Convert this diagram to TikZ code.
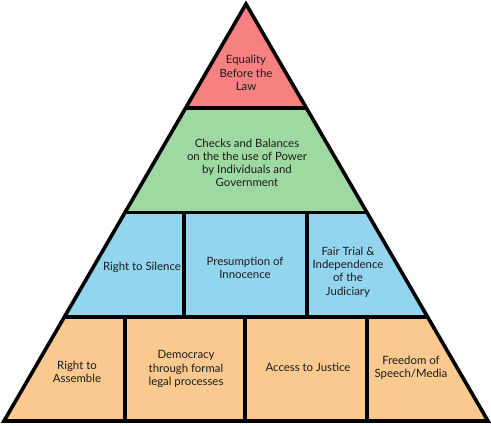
\documentclass[tikz,border=0pt]{standalone}
\usepackage{fontspec}
\setmainfont{Lato}
\usetikzlibrary{calc}
\definecolor{ink}{HTML}{1C1C1C}
\definecolor{lawred}{HTML}{F78080}
\definecolor{checkgreen}{HTML}{9ED9A1}
\definecolor{rightblue}{HTML}{93D4EF}
\definecolor{baseorange}{HTML}{F9C98F}
\tikzset{
  edge/.style={line width=3.6pt, draw=black},
  lbl/.style={font=\fontsize{11.4}{13.2}\selectfont, text=ink, align=center, inner sep=0pt},
}

\begin{document}
\begin{tikzpicture}[x=1pt,y=1pt]
  \useasboundingbox (0,0) rectangle (491,426);
  \coordinate (apex) at (246,422);
  \coordinate (bl) at (4,5);
  \coordinate (br) at (488,5);
  \foreach \k/\t in {1/0.25,2/0.5,3/0.75} {
    \coordinate (l\k) at ($(apex)!\t!(bl)$);
    \coordinate (r\k) at ($(apex)!\t!(br)$);
  }
  % tiers
  \fill[lawred] (apex) -- (l1) -- (r1) -- cycle;
  \fill[checkgreen] (l1) -- (l2) -- (r2) -- (r1) -- cycle;
  \fill[rightblue] (l2) -- (l3) -- (r3) -- (r2) -- cycle;
  \fill[baseorange] (l3) -- (bl) -- (br) -- (r3) -- cycle;
  % outlines
  \draw[edge] (l1) -- (r1) (l2) -- (r2) (l3) -- (r3);
  \foreach \x in {184,307} \draw[edge] (\x,213.5) -- (\x,109.25);
  \foreach \x in {125,245,367} \draw[edge] (\x,109.25) -- (\x,5);
  \draw[edge] (apex) -- (bl) -- (br) -- cycle;
  % labels
  \node[lbl] (equal) at (246,353) {Equality\\Before the\\Law};
  \node[lbl] (checks) at (247,263) {Checks and Balances\\on the the use of Power\\by Individuals and\\Government};
  \node[lbl] (silence) at (142,159) {Right to Silence};
  \node[lbl] (innocence) at (245,158) {Presumption of\\Innocence};
  \node[lbl] (trial) at (348,154) {Fair Trial \&\\Independence\\of the\\Judiciary};
  \node[lbl] (assemble) at (77,54) {Right to\\Assemble};
  \node[lbl] (democracy) at (186,57) {Democracy\\through formal\\legal processes};
  \node[lbl] (justice) at (308,59) {Access to Justice};
  \node[lbl] (speech) at (411,58) {Freedom of\\Speech/Media};
\end{tikzpicture}
\end{document}
